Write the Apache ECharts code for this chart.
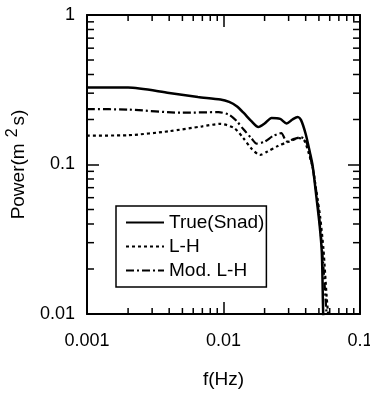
<!DOCTYPE html>
<html>
<head>
<meta charset="utf-8">
<script src="https://cdn.jsdelivr.net/npm/echarts@6/dist/echarts.min.js"></script>
<style>
  html, body { margin: 0; padding: 0; background: #fff; }
  #chart { width: 370px; height: 393px; }
</style>
</head>
<body>
<div id="chart"></div>
<script>
// 曲线数据
var trueF = [0.001, 0.002, 0.004, 0.0065, 0.0095, 0.011, 0.0125, 0.014, 0.016, 0.018, 0.020, 0.0225, 0.026, 0.029, 0.032, 0.035, 0.037, 0.040, 0.043, 0.045, 0.048, 0.0505, 0.0525, 0.0535, 0.0542];
var trueP = [0.327, 0.327, 0.301, 0.283, 0.272, 0.262, 0.245, 0.222, 0.195, 0.178, 0.188, 0.205, 0.202, 0.188, 0.200, 0.208, 0.198, 0.160, 0.120, 0.098, 0.060, 0.040, 0.026, 0.012, 0.007];

var lhF = [0.001, 0.002, 0.004, 0.007, 0.0095, 0.012, 0.014, 0.016, 0.0185, 0.021, 0.025, 0.030, 0.036, 0.039, 0.042, 0.045, 0.048, 0.051, 0.054, 0.057, 0.059, 0.0605];
var lhP = [0.156, 0.157, 0.167, 0.180, 0.187, 0.175, 0.150, 0.128, 0.116, 0.122, 0.133, 0.142, 0.150, 0.145, 0.120, 0.095, 0.065, 0.045, 0.027, 0.013, 0.009, 0.007];

var modF = [0.001, 0.002, 0.005, 0.0092, 0.011, 0.0125, 0.014, 0.016, 0.0175, 0.020, 0.023, 0.0265, 0.029, 0.032, 0.037, 0.040, 0.043, 0.046, 0.049, 0.052, 0.0545, 0.0565, 0.058];
var modP = [0.235, 0.233, 0.222, 0.224, 0.215, 0.195, 0.172, 0.150, 0.138, 0.142, 0.155, 0.162, 0.143, 0.147, 0.152, 0.145, 0.115, 0.085, 0.055, 0.032, 0.018, 0.011, 0.008];

// 次刻度位置
var xMinor = [0.002, 0.003, 0.004, 0.005, 0.006, 0.007, 0.008, 0.009, 0.02, 0.03, 0.04, 0.05, 0.06, 0.07, 0.08, 0.09];
var yMinor = [0.02, 0.03, 0.04, 0.05, 0.06, 0.07, 0.08, 0.09, 0.2, 0.3, 0.4, 0.5, 0.6, 0.7, 0.8, 0.9];

var font = '"Liberation Sans", Arial, sans-serif';

function pairs(f, p) {
    return f.map(function (v, i) { return [v, p[i]]; });
}

var chart = echarts.init(document.getElementById('chart'));

var axisCommon = {
    type: 'log',
    logBase: 10,
    axisLine: { show: true, onZero: false, lineStyle: { color: '#000', width: 2 } },
    axisTick: { show: true, inside: true, length: 12, lineStyle: { color: '#000', width: 1.5 } },
    splitLine: { show: false },
    minorTick: { show: false }
};

var option = {
    backgroundColor: '#fff',
    animation: false,
    grid: { left: 87, right: 10, top: 15, bottom: 79, outerBoundsMode: 'none' },
    legend: {
        data: ['True(Snad)', 'L-H', 'Mod. L-H'],
        orient: 'vertical',
        left: 116,
        top: 206,
        padding: [7, 2, 7, 9],
        itemGap: 5,
        itemWidth: 38,
        itemHeight: 14,
        borderColor: '#000',
        borderWidth: 1.5,
        backgroundColor: '#fff',
        itemStyle: { opacity: 0 },
        textStyle: { fontFamily: font, fontSize: 19, color: '#000' }
    },
    xAxis: [
        Object.assign({}, axisCommon, {
            min: 0.001, max: 0.1, position: 'bottom',
            axisLabel: { fontFamily: font, fontSize: 18, color: '#000', margin: 18 },
            name: 'f(Hz)', nameLocation: 'middle', nameGap: 56,
            nameTextStyle: { fontFamily: font, fontSize: 19, color: '#000' }
        }),
        Object.assign({}, axisCommon, {
            min: 0.001, max: 0.1, position: 'top',
            axisLabel: { show: false }
        })
    ],
    yAxis: [
        Object.assign({}, axisCommon, {
            min: 0.01, max: 1, position: 'left',
            axisLabel: { fontFamily: font, fontSize: 18, color: '#000', margin: 12 },
            name: 'Power(m{sup|2}s)', nameLocation: 'middle', nameGap: 54, nameRotate: 90,
            nameTextStyle: {
                fontFamily: font, fontSize: 19, color: '#000',
                rich: {
                    sup: { fontFamily: font, fontSize: 16, color: '#000', verticalAlign: 'top', padding: [0, 3, 12, 6] }
                }
            }
        }),
        Object.assign({}, axisCommon, {
            min: 0.01, max: 1, position: 'right',
            axisLabel: { show: false }
        })
    ],
    series: [
        {
            name: 'True(Snad)', type: 'line', symbol: 'none', smooth: 0.25,
            lineStyle: { color: '#000', width: 2.5, type: 'solid' },
            itemStyle: { color: '#000' },
            data: pairs(trueF, trueP)
        },
        {
            name: 'L-H', type: 'line', symbol: 'none', smooth: 0.25,
            lineStyle: { color: '#000', width: 2.2, type: [3, 3] },
            itemStyle: { color: '#000' },
            data: pairs(lhF, lhP)
        },
        {
            name: 'Mod. L-H', type: 'line', symbol: 'none', smooth: 0.25,
            lineStyle: { color: '#000', width: 2.2, type: [8, 3, 2, 3] },
            itemStyle: { color: '#000' },
            data: pairs(modF, modP)
        },
        {
            // x方向次刻度 (上下)
            type: 'custom', silent: true, clip: false,
            renderItem: function (params, api) {
                var x = api.value(0);
                var b = api.coord([x, 0.01]);
                var t = api.coord([x, 1]);
                var st = { stroke: '#000', lineWidth: 1.5 };
                return {
                    type: 'group',
                    children: [
                        { type: 'line', shape: { x1: b[0], y1: b[1], x2: b[0], y2: b[1] - 6 }, style: st },
                        { type: 'line', shape: { x1: t[0], y1: t[1], x2: t[0], y2: t[1] + 6 }, style: st }
                    ]
                };
            },
            data: xMinor.map(function (v) { return [v, 0.1]; })
        },
        {
            // y方向次刻度 (左右)
            type: 'custom', silent: true, clip: false,
            renderItem: function (params, api) {
                var y = api.value(1);
                var l = api.coord([0.001, y]);
                var r = api.coord([0.1, y]);
                var st = { stroke: '#000', lineWidth: 1.5 };
                return {
                    type: 'group',
                    children: [
                        { type: 'line', shape: { x1: l[0], y1: l[1], x2: l[0] + 7, y2: l[1] }, style: st },
                        { type: 'line', shape: { x1: r[0], y1: r[1], x2: r[0] - 7, y2: r[1] }, style: st }
                    ]
                };
            },
            data: yMinor.map(function (v) { return [0.01, v]; })
        }
    ]
};

chart.setOption(option);
</script>
</body>
</html>
